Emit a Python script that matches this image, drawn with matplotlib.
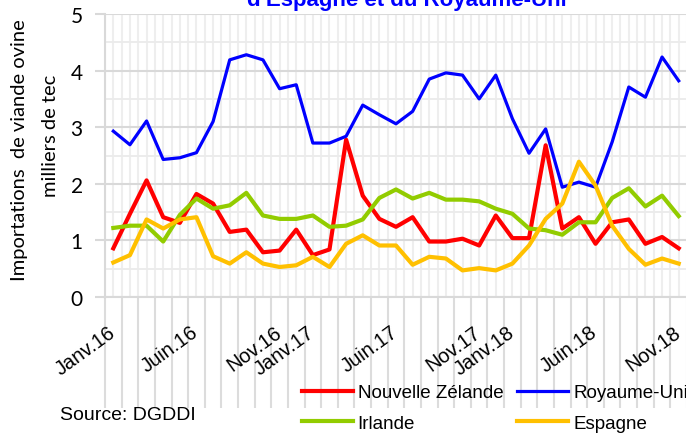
import matplotlib
matplotlib.use('Agg')
import matplotlib.pyplot as plt
import matplotlib.transforms as mtrans
import numpy as np

# Importations mensuelles, janv. 2016 -> nov. 2018 (milliers de tec)
nz = [0.86, 1.47, 2.06, 1.41, 1.31, 1.82, 1.65, 1.15, 1.19, 0.79, 0.82, 1.19,
      0.74, 0.84, 2.78, 1.79, 1.38, 1.24, 1.41, 0.98, 0.98, 1.03, 0.91, 1.44,
      1.04, 1.04, 2.68, 1.21, 1.41, 0.94, 1.32, 1.37, 0.94, 1.06, 0.86]
ru = [2.93, 2.69, 3.11, 2.43, 2.46, 2.55, 3.10, 4.19, 4.28, 4.19, 3.68, 3.75,
      2.72, 2.72, 2.84, 3.39, 3.22, 3.06, 3.28, 3.85, 3.96, 3.92, 3.50, 3.92,
      3.15, 2.54, 2.97, 1.94, 2.03, 1.94, 2.74, 3.71, 3.53, 4.24, 3.82]
ie = [1.22, 1.26, 1.26, 0.98, 1.45, 1.74, 1.56, 1.62, 1.84, 1.44, 1.38, 1.38,
      1.44, 1.24, 1.26, 1.37, 1.75, 1.90, 1.74, 1.84, 1.72, 1.72, 1.69, 1.56,
      1.47, 1.21, 1.18, 1.10, 1.32, 1.32, 1.75, 1.92, 1.60, 1.79, 1.43]
es = [0.61, 0.74, 1.37, 1.21, 1.37, 1.41, 0.72, 0.59, 0.79, 0.59, 0.53, 0.56,
      0.71, 0.53, 0.94, 1.09, 0.91, 0.91, 0.57, 0.71, 0.68, 0.47, 0.51, 0.47,
      0.59, 0.91, 1.38, 1.65, 2.39, 1.97, 1.26, 0.85, 0.57, 0.68, 0.59]

label_idx = [0, 5, 10, 12, 17, 22, 24, 29, 34]
label_txt = ['Janv.16', 'Juin.16', 'Nov.16', 'Janv.17', 'Juin.17',
             'Nov.17', 'Janv.18', 'Juin.18', 'Nov.18']

narrow = ['Liberation Sans Narrow', 'Liberation Sans', 'DejaVu Sans']
calib = ['Lato', 'DejaVu Sans']

n = len(nz)
x = np.arange(n) + 0.5
labels = [''] * n
for i, t in zip(label_idx, label_txt):
    labels[i] = t

fig = plt.figure(figsize=(6.86, 4.35), dpi=100)
ax = fig.add_axes([105/686, 137/435, 582/686, 283/435])

l_nz, = ax.plot(x, nz, color='#ff0000', lw=3.0, label='Nouvelle Zélande')
l_ru, = ax.plot(x, ru, color='#0000ff', lw=2.3, label='Royaume-Uni')
l_ie, = ax.plot(x, ie, color='#92cc00', lw=3.0, label='Irlande')
l_es, = ax.plot(x, es, color='#ffc000', lw=3.0, label='Espagne')

ax.set_xlim(0, n)
ax.set_ylim(0, 5)
ax.set_axisbelow(True)

ax.set_yticks(range(6))
ax.set_yticks(np.arange(0.5, 5, 1), minor=True)
ax.set_xticks(np.arange(n + 1))
ax.set_xticks(x, labels=labels, minor=True)

ax.grid(axis='y', which='major', color='#d9d9d9', lw=1.5)
ax.grid(axis='y', which='minor', color='#ebebeb', lw=1.3)
ax.grid(axis='x', which='both', color='#eeeeee', lw=1.5)

ax.tick_params(axis='x', which='major', direction='out', length=80,
               width=1.5, color='#dcdcdc', labelbottom=False)
ax.tick_params(axis='x', which='minor', length=0, pad=18)
shift = mtrans.ScaledTranslation(-6/100, 0, fig.dpi_scale_trans)
for t in ax.get_xticklabels(minor=True):
    t.set_rotation(36)
    t.set_ha('right')
    t.set_rotation_mode('anchor')
    t.set_fontsize(14.5)
    t.set_family(narrow)
    t.set_transform(t.get_transform() + shift)

ax.tick_params(axis='y', which='major', length=7, width=1.5,
               color='#d9d9d9', pad=9)
ax.tick_params(axis='y', which='minor', length=0)
for t in ax.get_yticklabels():
    t.set_fontsize(15)
    t.set_family(calib)

for s in ['top', 'right']:
    ax.spines[s].set_visible(False)
for s in ['left', 'bottom']:
    ax.spines[s].set_color('#d9d9d9')
    ax.spines[s].set_linewidth(1.5)

fig.text(407/686, 1 - 6/435, "d'Espagne et du Royaume-Uni", color='#0000ff',
         fontsize=16, fontweight='bold', ha='center', va='baseline',
         family=narrow[1:])

fig.text(20/686, 1 - 150/435, 'Importations  de viande ovine', rotation=90,
         ha='center', va='center', fontsize=14.5, family=calib)
fig.text(50/686, 1 - 136/435, 'milliers de tec', rotation=90,
         ha='center', va='center', fontsize=14.5, family=calib)

fig.text(60/686, 1 - 416/435, 'Source: DGDDI', ha='left', va='center',
         fontsize=14, family=narrow)

fig.legend([l_nz, l_ie, l_ru, l_es],
           ['Nouvelle Zélande', 'Irlande', 'Royaume-Uni', 'Espagne'],
           ncol=2, loc='upper left', bbox_to_anchor=(302/686, 1 - 385/435),
           frameon=False, prop={'family': narrow, 'size': 13.5},
           handlelength=2.7, handletextpad=0.27, columnspacing=0.75,
           labelspacing=0.72, borderpad=0, borderaxespad=0)

fig.savefig('out.png', dpi=100)
